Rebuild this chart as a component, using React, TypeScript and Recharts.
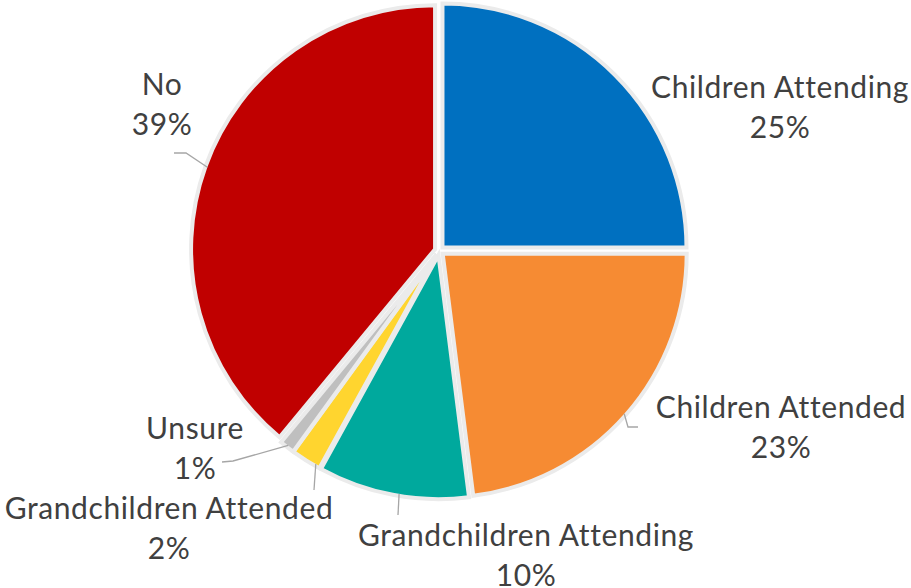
import React from 'react';
import { PieChart, Pie, Cell } from 'recharts';

const categories = [
  'Children Attending',
  'Children Attended',
  'Grandchildren Attending',
  'Grandchildren Attended',
  'Unsure',
  'No',
];
const values = [25, 23, 10, 2, 1, 39];
const percentLabels = ['25%', '23%', '10%', '2%', '1%', '39%'];
const colors = ['#0070C0', '#F68B33', '#00A99D', '#FFD52F', '#BFBFBF', '#C00000'];

const W = 911;
const H = 588;
const CX = 439.3;
const CY = 250.7;
const R = 244;
const EXPLODE = 4.5;
const FONT = 'Lato, "Open Sans", sans-serif';
const TEXT_COLOR = '#404040';
const LINE_GAP = 40;

// label layout: text centre x, first baseline y, leader points (label side first), anchor fraction within slice
const labelLayout: { x: number; y: number; leader: number[][]; anchor: number }[] = [
  { x: 780, y: 98, leader: [], anchor: 0.5 },
  { x: 781, y: 418, leader: [[638, 427], [628, 427]], anchor: 0.5 },
  { x: 526, y: 546, leader: [[398, 515]], anchor: 0.46 },
  { x: 169, y: 519, leader: [[314, 490]], anchor: 0.17 },
  { x: 195, y: 439, leader: [[222, 462], [233, 461]], anchor: 0.5 },
  { x: 162, y: 95, leader: [[174, 153], [186, 153]], anchor: 0.5 },
];

const total = values.reduce((a, b) => a + b, 0);

const slices = values.map((v, i) => {
  const before = values.slice(0, i).reduce((a, b) => a + b, 0);
  const startAngle = 90 - (360 * before) / total;
  const endAngle = 90 - (360 * (before + v)) / total;
  const mid = ((startAngle + endAngle) / 2) * (Math.PI / 180);
  const cx = CX + EXPLODE * Math.cos(mid);
  const cy = CY - EXPLODE * Math.sin(mid);
  return { name: categories[i], value: v, startAngle, endAngle, cx, cy };
});

const makeLabel = (i: number) => () => {
  const s = slices[i];
  const lay = labelLayout[i];
  const a = (s.startAngle + (s.endAngle - s.startAngle) * lay.anchor) * (Math.PI / 180);
  const ex = s.cx + (R - 2) * Math.cos(a);
  const ey = s.cy - (R - 2) * Math.sin(a);
  const pts = lay.leader.length ? [...lay.leader, [ex, ey]] : [];
  return (
    <g key={`lab-${i}`}>
      {pts.length > 0 && (
        <polyline
          points={pts.map((p) => `${p[0]},${p[1]}`).join(' ')}
          fill="none"
          stroke="#A6A6A6"
          strokeWidth={1.3}
        />
      )}
      <text
        x={lay.x}
        y={lay.y}
        textAnchor="middle"
        fontFamily={FONT}
        fontSize={30}
        letterSpacing={0.6}
        fill={TEXT_COLOR}
      >
        <tspan x={lay.x} y={lay.y}>{categories[i]}</tspan>
        <tspan x={lay.x} y={lay.y + LINE_GAP}>{percentLabels[i]}</tspan>
      </text>
    </g>
  );
};

export default function App() {
  return (
    <div style={{ position: 'absolute', left: 0, top: 0, width: W, height: H, background: '#fff' }}>
      <PieChart width={W} height={H} margin={{ top: 0, right: 0, bottom: 0, left: 0 }}>
        {slices.map((s, i) => (
          <Pie
            key={s.name}
            data={[{ name: s.name, value: s.value }]}
            dataKey="value"
            nameKey="name"
            cx={s.cx}
            cy={s.cy}
            innerRadius={0}
            outerRadius={R}
            startAngle={s.startAngle}
            endAngle={s.endAngle}
            stroke="#EBEBEB"
            strokeWidth={4}
            isAnimationActive={false}
            labelLine={false}
            label={makeLabel(i)}
          >
            <Cell fill={colors[i]} />
          </Pie>
        ))}
      </PieChart>
    </div>
  );
}
